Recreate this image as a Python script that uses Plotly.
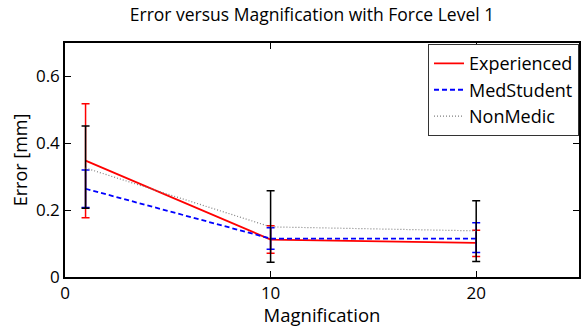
import plotly.graph_objects as go

magnification = [1, 10, 20]
exp_mean = [0.348, 0.112, 0.102]
exp_hi = [0.518, 0.153, 0.140]
exp_lo = [0.177, 0.071, 0.061]
med_mean = [0.264, 0.115, 0.115]
med_hi = [0.320, 0.147, 0.162]
med_lo = [0.208, 0.083, 0.073]
non_mean = [0.326, 0.150, 0.138]
non_hi = [0.452, 0.258, 0.228]
non_lo = [0.206, 0.044, 0.046]

x_ticks = [0, 10, 20]
y_ticks = [0, 0.2, 0.4, 0.6]

FONT = "Open Sans"

def eb(mean, hi, lo, color):
    return dict(type="data", symmetric=False,
                array=[h - m for h, m in zip(hi, mean)],
                arrayminus=[m - l for m, l in zip(mean, lo)],
                color=color, thickness=1.5, width=4)

fig = go.Figure()
fig.add_trace(go.Scatter(x=magnification, y=exp_mean, mode="lines", name="Experienced",
                         line=dict(color="red", width=1.8),
                         error_y=eb(exp_mean, exp_hi, exp_lo, "red")))
fig.add_trace(go.Scatter(x=magnification, y=med_mean, mode="lines", name="MedStudent",
                         line=dict(color="blue", width=1.8, dash="5px,3px"),
                         error_y=eb(med_mean, med_hi, med_lo, "blue")))
fig.add_trace(go.Scatter(x=magnification, y=non_mean, mode="lines", name="NonMedic",
                         line=dict(color="#808080", width=1.2, dash="1px,2px"),
                         error_y=eb(non_mean, non_hi, non_lo, "black")))

fig.update_layout(
    width=581, height=327,
    margin=dict(l=65, r=0, t=43, b=50),
    paper_bgcolor="white", plot_bgcolor="white",
    font=dict(family=FONT, color="black", size=15),
    title=dict(text="Error versus Magnification with Force Level 1", x=0.537, xanchor="center",
               y=0.955, yanchor="middle", font=dict(size=17.5, family=FONT)),
    xaxis=dict(range=[0, 25], tickvals=x_ticks, ticktext=[str(v) for v in x_ticks],
               showgrid=False, zeroline=False, showline=True, linecolor="black", linewidth=1.5,
               mirror="ticks", ticks="inside", ticklen=6, tickcolor="black",
               title=dict(text="Magnification", font=dict(size=18.5), standoff=0),
               tickfont=dict(size=17)),
    yaxis=dict(range=[0, 0.7], tickvals=y_ticks, ticktext=["0", "0.2", "0.4", "0.6"],
               showgrid=False, zeroline=False, showline=True, linecolor="black", linewidth=1.5,
               mirror="ticks", ticks="inside", ticklen=6, tickcolor="black",
               title=dict(text="Error [mm]", font=dict(size=18), standoff=4),
               tickfont=dict(size=17)),
    legend=dict(x=1.0, xanchor="right", y=0.995, yanchor="top",
                bgcolor="white", bordercolor="#333", borderwidth=1,
                font=dict(size=18, family=FONT), tracegroupgap=0, itemwidth=30),
    showlegend=True,
)

fig.write_html("out.html")
